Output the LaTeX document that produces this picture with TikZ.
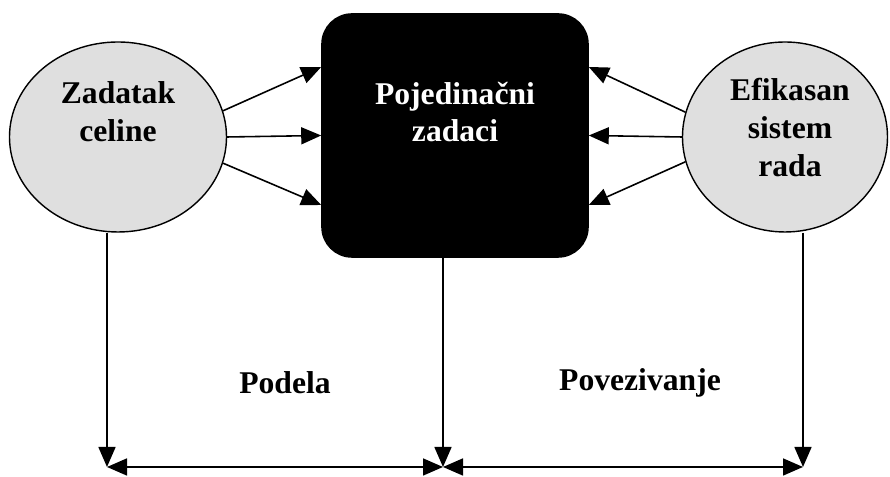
\documentclass[tikz,border=0pt]{standalone}
\usepackage{fontspec}
\setmainfont{Liberation Serif}
\usetikzlibrary{arrows.meta,shapes.geometric}
\tikzset{
	oval/.style={ellipse, draw, line width=0.8pt, fill=gray!25},
	blok/.style={rectangle, draw, fill=black, rounded corners=0.6cm},
	txt/.style={font=\fontsize{18}{21.6}\selectfont\bfseries, align=center},
	arr/.style={-{Triangle[length=4mm,width=3.4mm]}},
	darr/.style={{Triangle[length=4mm,width=3.4mm]}-{Triangle[length=4mm,width=3.4mm]}},
}

\begin{document}
\begin{tikzpicture}[line width=0.9pt]

		\useasboundingbox (0,0) rectangle (17.8,9.54);

		% Ellipses and box
		\node [oval, minimum width=4.34cm, minimum height=3.8cm] (zad) at (2.36, 6.8) {};
		\node [oval, minimum width=4.1cm, minimum height=3.8cm] (eff) at (15.7, 6.8) {};
		\node [blok, minimum width=5.32cm, minimum height=4.86cm] (box) at (9.1, 6.83) {};

		% Texts
		\node [txt] (zadT) at (2.36, 7.3) {Zadatak\\celine};
		\node [txt] (effT) at (15.8, 6.99) {Efikasan\\sistem\\rada};
		\node [txt, text=white] (boxT) at (9.1, 7.3) {Pojedinačni\\zadaci};
		\node [txt] (podela) at (5.7, 1.88) {Podela};
		\node [txt] (povez) at (12.8, 1.88) {Povezivanje};

		% Arrows into the box
		\draw [arr] (zad.14) -- ([yshift=1.37cm]box.west);
		\draw [arr] (zad.east) -- (box.west);
		\draw [arr] (zad.-14) -- ([yshift=-1.39cm]box.west);
		\draw [arr] (eff.166) -- ([yshift=1.37cm]box.east);
		\draw [arr] (eff.west) -- (box.east);
		\draw [arr] (eff.194) -- ([yshift=-1.39cm]box.east);

		% Bottom
		\coordinate (q1) at (2.14, 0.2);
		\coordinate (q2) at (8.86, 0.2);
		\coordinate (q3) at (16.06, 0.2);
		\draw [arr] (zad.south -| q1) -- (q1);
		\draw [arr] (box.south -| q2) -- (q2);
		\draw [arr] (eff.south -| q3) -- (q3);
		\draw [darr] (q1) -- (q2);
		\draw [darr] (q2) -- (q3);

	\end{tikzpicture}
\end{document}
